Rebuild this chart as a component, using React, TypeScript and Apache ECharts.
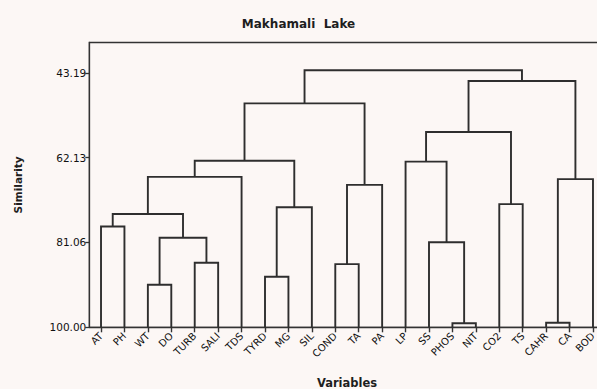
import React, { useEffect, useRef } from "react";
import * as echarts from "echarts";

const leaves = ["AT", "PH", "WT", "DO", "TURB", "SALI", "TDS", "TYRD", "MG", "SIL", "COND", "TA", "PA", "LP", "SS", "PHOS", "NIT", "CO2", "TS", "CAHR", "CA", "BOD"];
// merges: node ids 0..21 are leaves, 22+k is the cluster formed by merge k
const mergeLeft = [15, 19, 2, 7, 10, 4, 14, 24, 0, 30, 25, 17, 26, 23, 31, 13, 36, 37, 38, 39, 40];
const mergeRight = [16, 20, 3, 8, 11, 5, 22, 27, 1, 29, 9, 18, 12, 21, 6, 28, 32, 33, 34, 35, 41];
const mergeSim = [99.1, 99.0, 90.5, 88.7, 85.9, 85.6, 81.0, 80.0, 77.5, 74.7, 73.2, 72.5, 68.2, 66.9, 66.4, 63.0, 62.8, 56.4, 50.0, 45.0, 42.6];
const yTicks = [43.19, 62.13, 81.06, 100.0];
const leafSim = 100;

function buildLinks() {
  const pos: number[] = leaves.map((_, i) => i);
  const hgt: number[] = leaves.map(() => leafSim);
  const links: number[][] = [];
  for (let k = 0; k < mergeSim.length; k++) {
    const a = mergeLeft[k];
    const b = mergeRight[k];
    const h = mergeSim[k];
    links.push([pos[a], hgt[a], pos[b], hgt[b], h]);
    pos.push((pos[a] + pos[b]) / 2);
    hgt.push(h);
  }
  return links;
}

export default function App() {
  const ref = useRef<HTMLDivElement>(null);
  useEffect(() => {
    if (!ref.current) return;
    const chart = echarts.init(ref.current, null, { renderer: "svg" });
    const links = buildLinks();
    const font = "DejaVu Sans";
    const ink = "#2e2e2e";
    const axisInk = "#333333";
    chart.setOption({
      animation: false,
      backgroundColor: "#fcf7f5",
      title: {
        text: "Makhamali  Lake",
        left: "center",
        top: 13,
        textStyle: { fontFamily: font, fontSize: 12, fontWeight: "bold", color: "#1e1e1e" },
      },
      grid: {
        left: 89.3,
        right: -7.7,
        top: 42.5,
        bottom: 61.7,
        show: true,
        borderColor: axisInk,
        borderWidth: 1.3,
        backgroundColor: "transparent",
        containLabel: false,
        outerBoundsMode: "none",
      },
      xAxis: [
        {
          type: "value",
          min: -0.5,
          max: 21.5,
          show: false,
          splitLine: { show: false },
        },
        {
          type: "category",
          data: leaves,
          position: "bottom",
          boundaryGap: true,
          name: "Variables",
          nameLocation: "middle",
          nameGap: 50,
          nameTextStyle: { fontFamily: font, fontSize: 11.5, fontWeight: "bold", color: "#1e1e1e" },
          axisLine: { show: true, onZero: false, lineStyle: { color: axisInk, width: 1.3 } },
          axisTick: { show: true, alignWithLabel: true, interval: 0, length: 5, lineStyle: { color: axisInk, width: 1.4 } },
          axisLabel: {
            interval: 0,
            rotate: 45,
            margin: 7,
            fontFamily: font,
            fontSize: 10,
            color: "#111111",
          },
          splitLine: { show: false },
        },
      ],
      yAxis: {
        type: "value",
        inverse: true,
        min: 36.4,
        max: 100,
        name: "Similarity",
        nameLocation: "middle",
        nameRotate: 90,
        nameGap: 66,
        nameTextStyle: { fontFamily: font, fontSize: 10.5, fontWeight: "bold", color: "#1e1e1e" },
        axisLine: { show: true, onZero: false, lineStyle: { color: axisInk, width: 1.3 } },
        axisTick: { show: true, inside: false, length: 4, customValues: yTicks, lineStyle: { color: axisInk, width: 1.3 } },
        axisLabel: {
          customValues: yTicks,
          formatter: (v: number) => v.toFixed(2),
          margin: 3,
          fontFamily: font,
          fontSize: 10.5,
          color: "#111111",
        },
        splitLine: { show: false },
      },
      series: [
        {
          type: "custom",
          xAxisIndex: 0,
          data: links,
          encode: { x: [0, 2], y: [1, 3, 4] },
          renderItem: (params: any, api: any) => {
            const xl = api.value(0), hl = api.value(1), xr = api.value(2), hr = api.value(3), h = api.value(4);
            const pts = [
              api.coord([xl, hl]),
              api.coord([xl, h]),
              api.coord([xr, h]),
              api.coord([xr, hr]),
            ];
            return {
              type: "polyline",
              shape: { points: pts },
              style: { stroke: ink, lineWidth: 1.9, fill: null },
            };
          },
        },
      ],
    });
    return () => chart.dispose();
  }, []);
  return <div ref={ref} style={{ position: "absolute", left: 0, top: 0, width: 597, height: 389 }} />;
}
